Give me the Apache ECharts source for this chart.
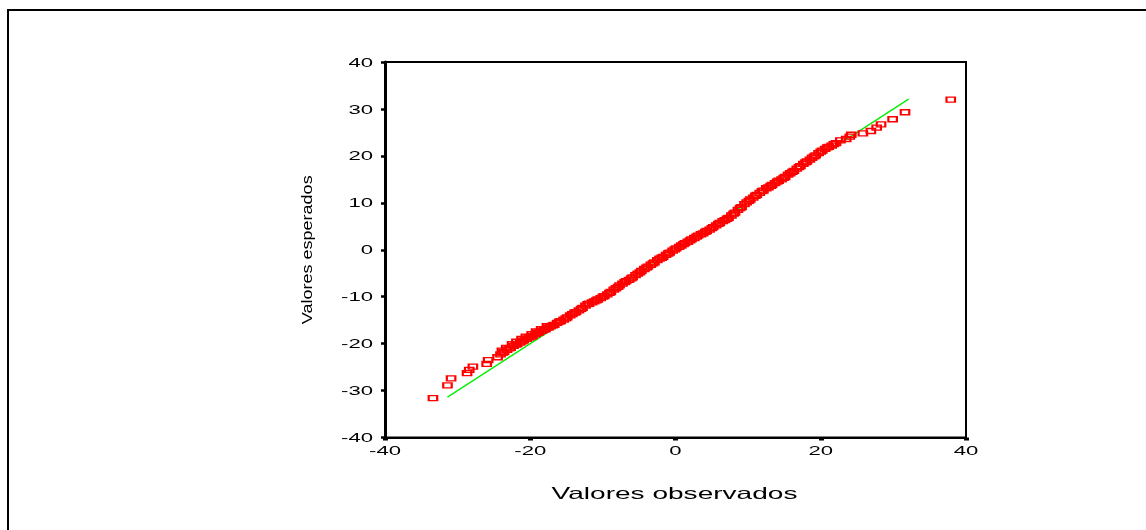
<!DOCTYPE html>
<html>
<head>
<meta charset="utf-8">
<title>Gráfico Q-Q normal</title>
<script src="https://cdn.jsdelivr.net/npm/echarts@6/dist/echarts.min.js"></script>
<style>
  html, body { margin: 0; padding: 0; background: #fff; }
  #main { width: 1146px; height: 530px; }
</style>
</head>
<body>
<div id="main"></div>
<script>
// Observed values (x) and their expected normal values (y), sorted
const observed = [
  -33.4, -31.4, -30.9, -28.7, -28.4, -27.9, -26.0, -25.8, -24.5,
  -24.1, -23.9, -23.8, -23.6, -23.3, -23.2, -22.9, -22.7, -22.5, -22.3, -22.0, -21.9, -21.8, -21.4,
  -21.2, -21.1, -20.9, -20.6, -20.5, -20.2, -19.9, -19.8, -19.7, -19.3, -19.2, -19.0, -18.8, -18.5, -18.4,
  -18.1, -17.9, -17.7, -17.5, -17.2, -16.9, -16.7, -16.3, -16.0, -15.8, -15.4,
  -15.1, -14.9, -14.5, -14.2, -13.9, -13.7, -13.3, -13.0, -12.8, -12.4,
  -12.1, -11.9, -11.5, -11.2, -10.9, -10.7, -10.3, -10.0, -9.8, -9.4,
  -9.1, -8.9, -8.5, -8.2, -7.9, -7.7, -7.3, -7.0, -6.8, -6.4,
  -6.1, -5.9, -5.5, -5.2, -4.9, -4.7, -4.3, -4.0, -3.8, -3.4,
  -3.1, -2.9, -2.5, -2.2, -1.9, -1.7, -1.3, -1.0, -0.8, -0.4,
  -0.1, 0.1, 0.5, 0.8, 1.1, 1.3, 1.7, 2.0, 2.2, 2.6,
  2.9, 3.1, 3.5, 3.8, 4.1, 4.3, 4.7, 5.0, 5.2, 5.6,
  5.9, 6.1, 6.5, 6.8, 7.1, 7.3, 7.7, 8.0, 8.2, 8.6,
  8.9, 9.1, 9.5, 9.8, 10.1, 10.3, 10.7, 11.0, 11.2, 11.6,
  11.9, 12.1, 12.5, 12.8, 13.1, 13.3, 13.7, 14.0, 14.2, 14.6,
  14.9, 15.1, 15.5, 15.8, 16.1, 16.3, 16.7, 17.0, 17.2, 17.6,
  17.9, 18.1, 18.5, 18.8, 19.1, 19.3, 19.7, 20.0, 20.2, 20.6,
  20.9, 21.1, 21.5, 21.8, 22.1,
  22.7, 23.5, 24.0, 24.2, 25.8, 26.9, 27.7, 28.3, 29.9, 31.6, 37.9
];
const expected = [
  -31.6, -28.9, -27.4, -26.3, -25.6, -24.9, -24.3, -23.5, -22.9,
  -22.3, -21.5, -21.9, -21.8, -20.9, -21.3, -21.0, -20.9, -20.1, -20.5, -20.2, -19.6, -20.1, -19.8,
  -19.0, -19.5, -19.3, -18.5, -19.0, -18.7, -18.5, -18.0, -18.4, -18.0, -17.4, -17.7, -17.6, -16.9, -17.3,
  -17.0, -16.9, -16.3, -16.6, -16.3, -16.1, -16.0, -15.6, -15.3, -15.2, -14.9,
  -14.6, -14.4, -14.0, -13.7, -13.4, -13.3, -12.9, -12.6, -12.4, -11.9,
  -11.6, -11.5, -11.2, -11.0, -10.8, -10.6, -10.3, -10.0, -9.9, -9.5,
  -9.2, -9.0, -8.5, -8.2, -7.9, -7.6, -7.2, -6.9, -6.7, -6.4,
  -6.1, -5.9, -5.4, -5.1, -4.8, -4.5, -4.1, -3.8, -3.6, -3.2,
  -2.9, -2.7, -2.2, -1.9, -1.7, -1.5, -1.1, -0.8, -0.6, -0.2,
  0.1, 0.3, 0.6, 0.9, 1.2, 1.4, 1.7, 2.0, 2.2, 2.5,
  2.8, 3.0, 3.3, 3.5, 3.8, 4.0, 4.3, 4.6, 4.8, 5.2,
  5.5, 5.7, 6.1, 6.3, 6.6, 6.8, 7.3, 7.7, 7.9, 8.5,
  8.9, 9.1, 9.7, 10.1, 10.4, 10.7, 11.1, 11.5, 11.7, 12.1,
  12.5, 12.6, 13.1, 13.3, 13.6, 13.8, 14.2, 14.5, 14.7, 15.0,
  15.3, 15.5, 16.0, 16.3, 16.6, 16.8, 17.3, 17.6, 17.8, 18.3,
  18.6, 18.8, 19.2, 19.6, 19.9, 20.1, 20.6, 20.9, 21.1, 21.5,
  21.8, 21.9, 22.2, 22.5, 22.7,
  23.3, 23.6, 24.1, 24.5, 24.8, 25.3, 26.0, 26.7, 27.8, 29.3, 32.0
];
// Reference line y = x, drawn over the range of the data
const lineStart = -31.4;
const lineEnd = 32.1;

const xTicks = [-40, -20, 0, 20, 40];
const yTicks = [40, 30, 20, 10, 0, -10, -20, -30, -40];
const xName = 'Valores observados';
const yName = 'Valores esperados';

const points = observed.map((v, i) => [v, expected[i]]);
const FONT = '"Liberation Sans", Arial, sans-serif';

const chart = echarts.init(document.getElementById('main'), null, { renderer: 'canvas' });

chart.setOption({
  animation: false,
  backgroundColor: '#fff',
  grid: {
    left: 385, top: 62, width: 581, height: 375.5,
    show: true, borderColor: '#000', borderWidth: 2, backgroundColor: 'transparent'
  },
  xAxis: {
    type: 'value', min: -40, max: 40, interval: 20,
    axisLine: { show: true, onZero: false, lineStyle: { color: '#000', width: 2 } },
    axisTick: { show: true, length: 3, lineStyle: { color: '#000', width: 5 } },
    axisLabel: { show: false },
    splitLine: { show: false }
  },
  yAxis: {
    type: 'value', min: -40, max: 40, interval: 10,
    axisLine: { show: true, onZero: false, lineStyle: { color: '#000', width: 3 } },
    axisTick: { show: true, length: 4, lineStyle: { color: '#000', width: 2.5 } },
    axisLabel: { show: false },
    splitLine: { show: false }
  },
  series: [
    {
      type: 'line',
      data: [[lineStart, lineStart], [lineEnd, lineEnd]],
      showSymbol: false,
      symbol: 'none',
      lineStyle: { color: '#00ee00', width: 1.3 },
      silent: true,
      z: 1
    },
    {
      type: 'scatter',
      data: points,
      symbol: 'rect',
      symbolSize: [8.5, 5],
      itemStyle: { color: 'rgba(255,0,0,0)', borderColor: '#ff0000', borderWidth: 1.7, opacity: 1 },
      emphasis: { disabled: true },
      silent: true,
      z: 2
    }
  ]
});

// Stretched tick labels and axis titles, placed through the axis scales
const graphics = [];
graphics.push({
  type: 'rect', z: -1, silent: true,
  shape: { x: 8, y: 10, width: 1200, height: 600 },
  style: { fill: 'none', stroke: '#000', lineWidth: 2 }
});
xTicks.forEach(v => {
  const p = chart.convertToPixel({ xAxisIndex: 0, yAxisIndex: 0 }, [v, -40]);
  graphics.push({
    type: 'text', x: p[0], y: p[1] + 14, scaleX: 1.7, silent: true,
    style: {
      text: String(v), x: 0, y: 0, fill: '#000', font: '13px ' + FONT,
      align: 'center', verticalAlign: 'middle', textAlign: 'center', textVerticalAlign: 'middle'
    }
  });
});
yTicks.forEach(v => {
  const p = chart.convertToPixel({ xAxisIndex: 0, yAxisIndex: 0 }, [-40, v]);
  graphics.push({
    type: 'text', x: p[0] - 12, y: p[1] + 1, scaleX: 1.7, silent: true,
    style: {
      text: String(v), x: 0, y: 0, fill: '#000', font: '13px ' + FONT,
      align: 'right', verticalAlign: 'middle', textAlign: 'right', textVerticalAlign: 'middle'
    }
  });
});
const xMid = chart.convertToPixel({ xAxisIndex: 0 }, 0);
const yMid = chart.convertToPixel({ yAxisIndex: 0 }, 0);
graphics.push({
  type: 'text', x: xMid - 1, y: 494, scaleX: 1.7, silent: true,
  style: {
    text: xName, x: 0, y: 0, fill: '#000', font: '16.5px ' + FONT,
    align: 'center', verticalAlign: 'middle', textAlign: 'center', textVerticalAlign: 'middle'
  }
});
graphics.push({
  type: 'text', x: 308, y: yMid, rotation: Math.PI / 2, scaleY: 0.78, silent: true,
  style: {
    text: yName, x: 0, y: 0, fill: '#000', font: '18px ' + FONT,
    align: 'center', verticalAlign: 'middle', textAlign: 'center', textVerticalAlign: 'middle'
  }
});
chart.setOption({ graphic: { elements: graphics } });
</script>
</body>
</html>
